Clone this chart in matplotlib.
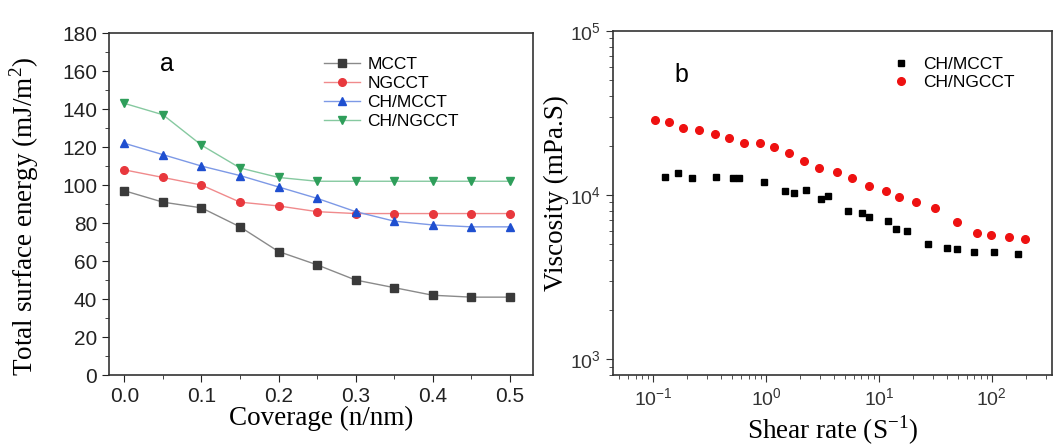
import matplotlib
matplotlib.use("Agg")
from matplotlib import pyplot as plt
from matplotlib.ticker import MultipleLocator, LogLocator, NullFormatter
import numpy as np

# panel a: total surface energy vs coverage
coverage = [0.0, 0.05, 0.1, 0.15, 0.2, 0.25, 0.3, 0.35, 0.4, 0.45, 0.5]
mcct = [97, 91, 88, 78, 65, 58, 50, 46, 42, 41, 41]
ngcct = [108, 104, 100, 91, 89, 86, 85, 85, 85, 85, 85]
ch_mcct = [122, 116, 110, 105, 99, 93, 86, 81, 79, 78, 78]
ch_ngcct = [143, 137, 121, 109, 104, 102, 102, 102, 102, 102, 102]

# panel b: viscosity vs shear rate
rate_ngcct = [0.104, 0.139, 0.183, 0.252, 0.349, 0.473, 0.643, 0.885, 1.18, 1.61,
              2.18, 2.96, 4.22, 5.81, 8.21, 11.5, 15.1, 21.5, 31.3, 48.7,
              73.3, 99.3, 142, 196]
visc_ngcct = [28600, 27900, 25700, 24800, 23400, 22300, 20800, 20800, 19600, 17900,
              16200, 14600, 13900, 12700, 11300, 10600, 9680, 9020, 8290, 6800,
              5900, 5680, 5550, 5420]
rate_mcct = [0.128, 0.165, 0.220, 0.359, 0.504, 0.577, 0.966, 1.47, 1.77, 2.24,
             3.05, 3.52, 5.28, 7.11, 8.21, 12.1, 14.3, 17.9, 27.3, 39.7,
             48.7, 69.8, 105, 171]
visc_mcct = [12950, 13600, 12700, 12950, 12650, 12650, 12070, 10600, 10240, 10780,
             9450, 9820, 8010, 7720, 7360, 6900, 6180, 6040, 5000, 4780,
             4660, 4490, 4490, 4390]

sans = ['Liberation Sans', 'DejaVu Sans']
serif = ['Liberation Serif', 'DejaVu Serif']
plt.rcParams['font.family'] = sans

fig = plt.figure(figsize=(10.56, 4.47), dpi=100)
ax1 = fig.add_axes([0.1032, 0.161, 0.4015, 0.765])
ax2 = fig.add_axes([0.5805, 0.161, 0.4155, 0.770])

series = [
    ('MCCT', mcct, 's', '#3a3a3a', '#8a8a8a'),
    ('NGCCT', ngcct, 'o', '#e8383d', '#f08a8c'),
    ('CH/MCCT', ch_mcct, '^', '#1f4fd0', '#7d99e6'),
    ('CH/NGCCT', ch_ngcct, 'v', '#2e9e5a', '#86c9a0'),
]
for name, vals, mk, mc, lc in series:
    ax1.plot(coverage, vals, color=lc, lw=1.0, marker=mk, ms=5.5,
             mfc=mc, mec=mc, label=name)

ax1.set_xlim(-0.02, 0.53)
ax1.set_ylim(0, 180)
ax1.xaxis.set_major_locator(MultipleLocator(0.1))
ax1.xaxis.set_minor_locator(MultipleLocator(0.05))
ax1.yaxis.set_major_locator(MultipleLocator(20))
ax1.yaxis.set_minor_locator(MultipleLocator(10))
ax1.tick_params(which='both', direction='out', labelsize=15, colors='#222222')
ax1.tick_params(which='major', length=5)
ax1.tick_params(which='minor', length=3)
ax1.set_xlabel('Coverage (n/nm)', family=serif, fontsize=19.5)
ax1.xaxis.set_label_coords(0.5, -0.09)
ax1.set_ylabel('Total surface energy (mJ/m$^{\\mathregular{2}}$)', family=serif,
               fontsize=19.5)
ax1.yaxis.set_label_coords(-0.16, 0.465)
ax1.text(0.12, 0.89, 'a', transform=ax1.transAxes, fontsize=18)
ax1.legend(loc='upper left', bbox_to_anchor=(0.47, 0.975), frameon=False,
           fontsize=12.5, handlelength=2.1, labelspacing=0.22, handletextpad=0.4)

ax2.plot(rate_mcct, visc_mcct, 's', color='black', ms=5, ls='none', label='CH/MCCT')
ax2.plot(rate_ngcct, visc_ngcct, 'o', color='#ee1111', ms=5.5, ls='none', label='CH/NGCCT')
ax2.set_xscale('log')
ax2.set_yscale('log')
ax2.set_xlim(0.044, 340)
ax2.set_ylim(800, 1e5)
ax2.xaxis.set_minor_locator(LogLocator(base=10, subs=np.arange(2, 10)))
ax2.xaxis.set_minor_formatter(NullFormatter())
ax2.yaxis.set_minor_locator(LogLocator(base=10, subs=np.arange(2, 10)))
ax2.yaxis.set_minor_formatter(NullFormatter())
ax2.tick_params(which='both', direction='out', labelsize=14, colors='#333333')
ax2.tick_params(which='major', length=5)
ax2.tick_params(which='minor', length=3)
ax2.set_xlabel('Shear rate (S$^{\\mathregular{-1}}$)', family=serif, fontsize=19.5)
ax2.xaxis.set_label_coords(0.5, -0.112)
ax2.set_ylabel('Viscosity (mPa.S)', family=serif, fontsize=19.5)
ax2.yaxis.set_label_coords(-0.10, 0.53)
ax2.text(0.14, 0.85, 'b', transform=ax2.transAxes, fontsize=18)
ax2.legend(loc='upper left', bbox_to_anchor=(0.60, 0.97), frameon=False,
           fontsize=12.5, handlelength=1.0, labelspacing=0.15, handletextpad=0.8)

for ax in (ax1, ax2):
    for sp in ax.spines.values():
        sp.set_color('#333333')
        sp.set_linewidth(1.2)

fig.savefig('out.png', dpi=100)
